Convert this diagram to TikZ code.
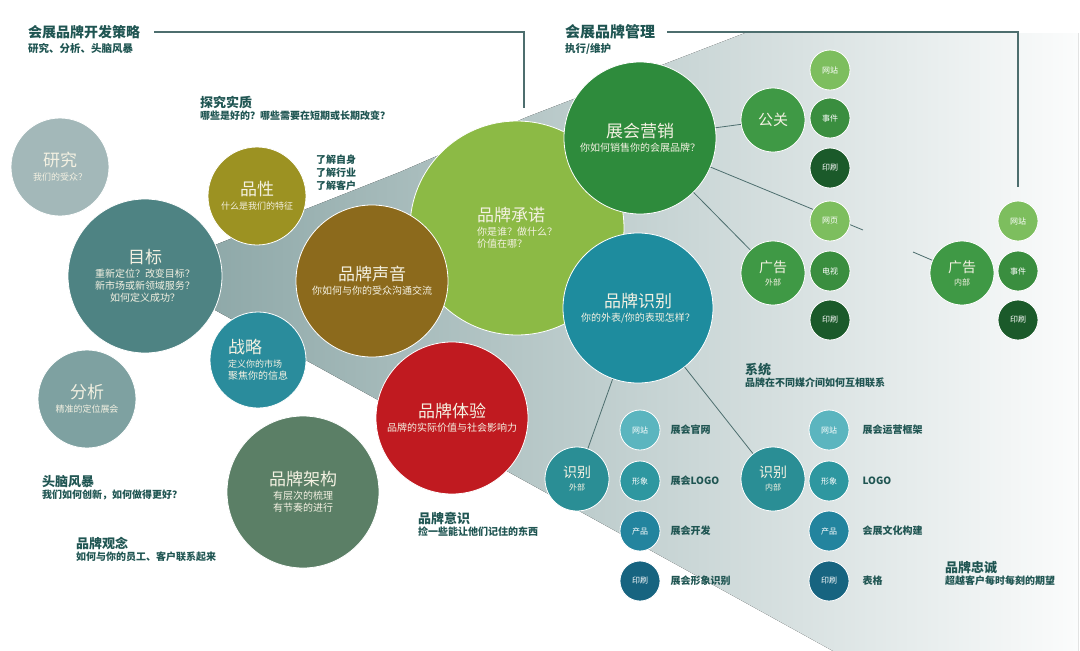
\documentclass[tikz,border=0pt]{standalone}
\usepackage{fontspec}
\setmainfont{Noto Sans CJK SC}
\usetikzlibrary{positioning}

\definecolor{txt}{HTML}{1F5552}
\definecolor{cream}{HTML}{F4F1E2}
\definecolor{linec}{HTML}{4D6E6E}
\definecolor{gA}{HTML}{8FA9A9}
\definecolor{gB}{HTML}{C5D2D2}
\definecolor{gC}{HTML}{FBFCFC}
\definecolor{cYj}{HTML}{A3B8B9}
\definecolor{cMb}{HTML}{4E8383}
\definecolor{cFx}{HTML}{7EA1A1}
\definecolor{cPx}{HTML}{9C9222}
\definecolor{cZl}{HTML}{2A8C9C}
\definecolor{cSy}{HTML}{8C6A1C}
\definecolor{cJg}{HTML}{5B7F66}
\definecolor{cTy}{HTML}{C01A20}
\definecolor{cCn}{HTML}{8CBA45}
\definecolor{cYx}{HTML}{2E8B3C}
\definecolor{cSb}{HTML}{1E8C9E}
\definecolor{cGg}{HTML}{3F9945}
\definecolor{cId}{HTML}{2A8E95}
\definecolor{lg}{HTML}{7DBE5E}
\definecolor{mg}{HTML}{3A8E3F}
\definecolor{dg}{HTML}{1B5A2A}
\definecolor{tA}{HTML}{5BB5BF}
\definecolor{tB}{HTML}{2E97A0}
\definecolor{tC}{HTML}{23849E}
\definecolor{tD}{HTML}{176480}

\newcommand{\bub}[2]{\fontsize{17}{19}\selectfont #1\\[2pt]\fontsize{10}{13}\selectfont #2}
\newcommand{\sbub}[2]{\fontsize{14}{15}\selectfont #1\\[1pt]\fontsize{8}{9}\selectfont #2}
\newcommand{\duo}[2]{\fontsize{13}{15}\selectfont #1\\\fontsize{10}{13}\selectfont #2}

\begin{document}
\begin{tikzpicture}[x=1pt, y=-1pt,
        every node/.style={inner sep=0pt},
        bub/.style={circle, minimum size=#1, draw=white, line width=0.8pt,
                align=center, text=cream},
        pip/.style={circle, minimum size=40pt, draw=white, line width=0.8pt,
                fill=#1, text=white, font=\fontsize{8}{9}\selectfont},
        note/.style={anchor=north west, align=left, text=txt, font=\bfseries},
        side/.style={anchor=west, text=txt, font=\bfseries\fontsize{10}{12}\selectfont},
        link/.style={draw=linec, line width=0.8pt},
        rule/.style={draw=linec, line width=1.2pt}]
    \useasboundingbox (0,0) rectangle (1080,651);

    % grey cone behind the bubbles
    \fill[left color=gA, middle color=gB, right color=gC]
        (215,245) -- (400,172) -- (527,117) -- (745,33) -- (1078,33)
        -- (1078,651) -- (833,651) -- (215,310) -- cycle;

    % headings
    \node[note, anchor=west, font=\bfseries\fontsize{14}{16}\selectfont] (h1) at (28,32) {会展品牌开发策略};
    \node[note, anchor=west, font=\bfseries\fontsize{10.5}{12}\selectfont] (h1s) at (28,48) {研究、分析、头脑风暴};
    \node[note, anchor=west, font=\bfseries\fontsize{15}{17}\selectfont] (h2) at (565,32) {会展品牌管理};
    \node[note, anchor=west, font=\bfseries\fontsize{10.5}{12}\selectfont] (h2s) at (565,49) {执行/维护};
    \coordinate (h1c) at (524,108);
    \coordinate (h2c) at (1018,187);
    \draw[rule] ([xshift=14pt]h1.east) -| (h1c);
    \draw[rule] ([xshift=12pt]h2.east) -| (h2c);

    % big bubbles
    \node[bub=214pt, fill=cCn, align=left] (6) at (517,228) {\bub{品牌承诺}{你是谁？做什么？\\价值在哪？}};
    \node[bub=152pt, fill=cSy] (7) at (372,281) {\bub{品牌声音}{你如何与你的受众沟通交流}};
    \node[bub=152pt, fill=cTy] (9) at (452,418) {\bub{品牌体验}{品牌的实际价值与社会影响力}};
    \node[bub=152pt, fill=cYx] (10) at (640,138) {\bub{展会营销}{你如何销售你的会展品牌？}};
    \node[bub=150pt, fill=cSb] (11) at (638,308) {\bub{品牌识别}{你的外表/你的表现怎样？}};
    \node[bub=98pt, fill=cYj] (1) at (60,167) {\bub{研究}{\fontsize{9}{11}\selectfont 我们的受众？}};
    \node[bub=154pt, fill=cMb] (2) at (145,276) {\bub{目标}{重新定位？改变目标？\\新市场或新领域服务？\\如何定义成功？}};
    \node[bub=98pt, fill=cFx] (3) at (87,399) {\bub{分析}{\fontsize{9}{11}\selectfont 精准的定位展会}};
    \node[bub=98pt, fill=cPx] (4) at (257,196) {\bub{品性}{\fontsize{9}{11}\selectfont 什么是我们的特征}};
    \node[bub=96pt, fill=cZl, align=left] (5) at (258,360) {\bub{战略}{\fontsize{9}{12}\selectfont 定义你的市场\\聚焦你的信息}};
    \node[bub=152pt, fill=cJg] (8) at (303,492) {\bub{品牌架构}{有层次的梳理\\有节奏的进行}};

    % middle bubbles
    \node[bub=64pt, fill=cGg] (12) at (773,120) {\fontsize{15}{17}\selectfont 公关};
    \node[bub=64pt, fill=cGg] (13) at (773,273) {\sbub{广告}{外部}};
    \node[bub=64pt, fill=cGg] (14) at (962,273) {\sbub{广告}{内部}};
    \node[bub=64pt, fill=cId] (15) at (577,479) {\sbub{识别}{外部}};
    \node[bub=64pt, fill=cId] (16) at (773,479) {\sbub{识别}{内部}};

    % connectors
    \coordinate (g1) at (863,230);
    \coordinate (g2) at (913,252);
    \foreach \i/\j in {10/12, 10/13, 10/g1, g2/14, 11/15, 11/16} {
            \draw[link] (\i) -- (\j);
        }

    % small bubbles
    \node[pip=lg] (a1) at (830,70) {网站};
    \node[pip=mg] (a2) at (830,118) {事件};
    \node[pip=dg] (a3) at (830,168) {印刷};
    \node[pip=lg] (a4) at (830,221) {网页};
    \node[pip=mg] (a5) at (830,271) {电视};
    \node[pip=dg] (a6) at (830,320) {印刷};
    \node[pip=lg] (b1) at (1018,221) {网站};
    \node[pip=mg] (b2) at (1018,271) {事件};
    \node[pip=dg] (b3) at (1018,320) {印刷};

    \node[pip=tA] (c1) at (640,430) {网站};
    \node[pip=tB] (c2) at (640,481) {形象};
    \node[pip=tC] (c3) at (640,531) {产品};
    \node[pip=tD] (c4) at (640,581) {印刷};
    \node[pip=tA] (d1) at (829,430) {网站};
    \node[pip=tB] (d2) at (829,481) {形象};
    \node[pip=tC] (d3) at (829,531) {产品};
    \node[pip=tD] (d4) at (829,581) {印刷};

    \node[side, right=10pt of c1] {展会官网};
    \node[side, right=10pt of c2] {展会LOGO};
    \node[side, right=10pt of c3] {展会开发};
    \node[side, right=10pt of c4] {展会形象识别};
    \node[side, right=13pt of d1] {展会运营框架};
    \node[side, right=13pt of d2] {LOGO};
    \node[side, right=13pt of d3] {会展文化构建};
    \node[side, right=13pt of d4] {表格};

    % notes
    \node[note] (n1) at (200,96) {\duo{探究实质}{哪些是好的？哪些需要在短期或长期改变？}};
    \node[note, font=\bfseries\fontsize{10}{13}\selectfont] (n2) at (316,155) {了解自身\\了解行业\\了解客户};
    \node[note] (n3) at (745,363) {\duo{系统}{品牌在不同媒介间如何互相联系}};
    \node[note] (n4) at (42,475) {\duo{头脑风暴}{我们如何创新，如何做得更好？}};
    \node[note] (n5) at (76,537) {\duo{品牌观念}{如何与你的员工、客户联系起来}};
    \node[note] (n6) at (418,512) {\duo{品牌意识}{捡一些能让他们记住的东西}};
    \node[note] (n7) at (945,561) {\duo{品牌忠诚}{超越客户每时每刻的期望}};
\end{tikzpicture}
\end{document}
